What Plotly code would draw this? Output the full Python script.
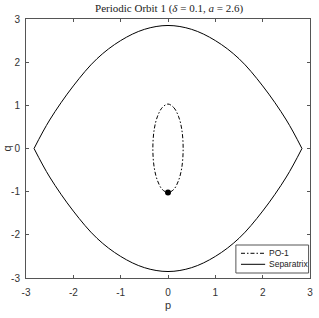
import plotly.graph_objects as go

# Separatrix (upper half, lower half mirrored readings)
sep_p_upper = [-2.83, -2.5, -2.0, -1.5, -1.0, -0.5, 0.0, 0.5, 1.0, 1.5, 2.0, 2.5, 2.83]
sep_q_upper = [0.0, 0.66, 1.45, 2.08, 2.50, 2.76, 2.85, 2.76, 2.50, 2.08, 1.45, 0.66, 0.0]
sep_p_lower = [2.83, 2.5, 2.0, 1.5, 1.0, 0.5, 0.0, -0.5, -1.0, -1.5, -2.0, -2.5, -2.83]
sep_q_lower = [0.0, -0.66, -1.45, -2.08, -2.50, -2.76, -2.85, -2.76, -2.50, -2.08, -1.45, -0.66, 0.0]

# Periodic orbit PO-1
po_p = [0.0, 0.12, 0.22, 0.29, 0.32, 0.29, 0.22, 0.12, 0.0, -0.12, -0.22, -0.29, -0.32, -0.29, -0.22, -0.12, 0.0]
po_q = [1.03, 0.95, 0.75, 0.45, 0.0, -0.45, -0.75, -0.95, -1.02, -0.95, -0.75, -0.45, 0.0, 0.45, 0.75, 0.95, 1.03]

# Initial point
pt_p = [0.0]
pt_q = [-1.02]

ticks = [-3, -2, -1, 0, 1, 2, 3]
tick_labels = ["-3", "-2", "-1", "0", "1", "2", "3"]
legend_names = ["PO-1", "Separatrix"]
DASHDOT = "4px,2px,1.5px,2px"
legend_dashes = [DASHDOT, "solid"]

fig = go.Figure()
fig.add_trace(go.Scatter(x=po_p, y=po_q, mode="lines", name="PO-1", showlegend=False,
                         line=dict(color="black", width=1, dash=DASHDOT, shape="spline")))
fig.add_trace(go.Scatter(x=sep_p_upper + [None] + sep_p_lower,
                         y=sep_q_upper + [None] + sep_q_lower,
                         mode="lines", name="Separatrix", connectgaps=False, showlegend=False,
                         line=dict(color="black", width=1, shape="spline")))
fig.add_trace(go.Scatter(x=pt_p, y=pt_q, mode="markers", showlegend=False,
                         marker=dict(color="black", size=6)))

axis_common = dict(range=[-3, 3], tickvals=ticks, ticktext=tick_labels,
                   ticks="inside", ticklen=3, automargin=False,
                   showline=True, linecolor="#555555", linewidth=1, mirror="ticks",
                   tickcolor="#555555", showgrid=False, zeroline=False,
                   tickfont=dict(family="Liberation Sans, Arial", size=10, color="#333333"))

fig.update_layout(
    width=319, height=318,
    margin=dict(l=26, r=9, t=19, b=40),
    paper_bgcolor="white", plot_bgcolor="white",
    title=dict(text="Periodic Orbit 1 (<i>δ</i> = 0.1, <i>a</i> = 2.6)",
               x=0.53, xanchor="center", y=0.985, yanchor="top",
               font=dict(family="Liberation Serif, Times New Roman", size=11, color="#222222")),
    xaxis=dict(ticklabelstandoff=5, **axis_common),
    yaxis=dict(ticklabelstandoff=3, **axis_common),
    showlegend=False,
)

# axis titles
lab_font = dict(family="Liberation Sans, Arial", size=11, color="#333333")
fig.add_annotation(text="p", xref="paper", yref="paper", x=0.5, y=-0.105,
                   xanchor="center", yanchor="middle", showarrow=False, font=lab_font)
fig.add_annotation(text="q", xref="paper", yref="paper", x=-0.0704, y=0.5, textangle=-90,
                   xanchor="center", yanchor="middle", showarrow=False, font=lab_font)

# legend box (drawn manually to match compact style)
fig.add_shape(type="rect", xref="paper", yref="paper", x0=0.739, x1=0.995, y0=0.0193, y1=0.1274,
              line=dict(color="#555555", width=1), fillcolor="white", layer="above")
leg_y = [0.0954, 0.0529]
for name, dash, yy in zip(legend_names, legend_dashes, leg_y):
    fig.add_shape(type="line", xref="paper", yref="paper", x0=0.757, x1=0.842, y0=yy, y1=yy,
                  line=dict(color="black", width=1, dash=dash), layer="above")
    fig.add_annotation(text=name, xref="paper", yref="paper", x=0.849, y=yy,
                       xanchor="left", yanchor="middle", showarrow=False,
                       font=dict(family="Liberation Sans, Arial", size=8.5, color="#222222"))

fig.write_html("out.html", config={"displayModeBar": False},
               post_script="document.body.style.margin='0';document.body.style.overflow='hidden';")
